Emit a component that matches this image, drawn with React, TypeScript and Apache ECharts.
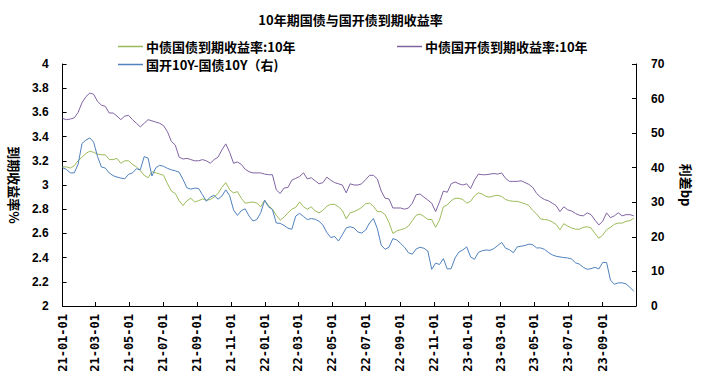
import React, { useEffect, useRef } from "react";
import * as echarts from "echarts";

// ---- Data (weekly readings, starting 2021-01-01, one value every 7 days) ----
const startDate = "2021-01-01";
const endDate = "2023-10-31";
const stepDays = 7;

const seriesNames = ["中债国债到期收益率:10年", "中债国开债到期收益率:10年", "国开10Y-国债10Y（右)"];

// 中债国债到期收益率:10年 (%)
const cgbYield = [
  3.15, 3.15, 3.14, 3.16, 3.2, 3.23, 3.26, 3.28, 3.27, 3.255,
  3.25, 3.25, 3.21, 3.21, 3.22, 3.18, 3.2, 3.2, 3.17, 3.15,
  3.12, 3.08, 3.06, 3.11, 3.1, 3.09, 3.08, 3.01, 2.95, 2.93,
  2.87, 2.83, 2.87, 2.89, 2.86, 2.87, 2.885, 2.875, 2.88, 2.9,
  2.93, 2.98, 3.02, 2.96, 2.935, 2.945, 2.89, 2.85, 2.855, 2.86,
  2.85, 2.82, 2.875, 2.83, 2.8, 2.75, 2.71, 2.735, 2.77, 2.8,
  2.815, 2.86, 2.82, 2.8, 2.82, 2.785, 2.77, 2.79, 2.825, 2.84,
  2.84, 2.82, 2.79, 2.72, 2.77, 2.78, 2.795, 2.815, 2.845, 2.85,
  2.825, 2.78, 2.78, 2.755, 2.69, 2.6, 2.62, 2.63, 2.64, 2.66,
  2.705, 2.75, 2.76, 2.74, 2.715, 2.715, 2.65, 2.71, 2.82, 2.835,
  2.87, 2.89, 2.89, 2.88, 2.85, 2.865, 2.91, 2.935, 2.925, 2.905,
  2.9, 2.91, 2.915, 2.905, 2.88, 2.87, 2.865, 2.865, 2.855, 2.845,
  2.83, 2.79, 2.76, 2.72, 2.715, 2.71, 2.695, 2.675, 2.63, 2.68,
  2.66, 2.645, 2.635, 2.635, 2.65, 2.655, 2.645, 2.6, 2.56, 2.585,
  2.63, 2.65, 2.675, 2.685, 2.685, 2.7, 2.705, 2.725,
];

// 中债国开债到期收益率:10年 (%)
const cdbYield = [
  3.55, 3.54, 3.545, 3.555, 3.6, 3.68, 3.73, 3.76, 3.75, 3.69,
  3.66, 3.65, 3.595, 3.595, 3.57, 3.54, 3.57, 3.575, 3.54, 3.51,
  3.48, 3.51, 3.54, 3.53, 3.52, 3.51, 3.49, 3.44, 3.36, 3.33,
  3.23, 3.215, 3.22, 3.21, 3.2, 3.2, 3.21, 3.2, 3.18, 3.21,
  3.23, 3.29, 3.34, 3.27, 3.18, 3.19, 3.17, 3.13, 3.11, 3.1,
  3.1, 3.1, 3.09, 3.085, 3.085, 2.96, 2.93, 2.975, 2.98, 3.04,
  3.055, 3.07, 3.1, 3.05, 3.06, 3.035, 3.01, 3.02, 3.065, 3.04,
  3.02, 3.01, 3.0, 2.935, 3.01, 3.0, 3.0, 3.01, 3.045, 3.08,
  3.08, 3.05, 2.95, 2.89, 2.885, 2.81, 2.81, 2.81, 2.8, 2.81,
  2.85, 2.92, 2.925, 2.9, 2.875, 2.85, 2.78, 2.86, 2.95, 2.94,
  3.01, 3.025, 3.01, 3.0, 3.01, 2.97, 3.04, 3.09, 3.085, 3.085,
  3.09, 3.095, 3.09, 3.1, 3.055, 3.03, 3.03, 3.03, 3.035, 3.02,
  3.005, 2.98, 2.93, 2.9, 2.88, 2.87, 2.85, 2.83, 2.78, 2.82,
  2.795, 2.785, 2.765, 2.75, 2.745, 2.77, 2.755, 2.71, 2.67, 2.7,
  2.77, 2.73, 2.745, 2.77, 2.745, 2.755, 2.755, 2.745,
];

// 国开10Y-国债10Y (bp, right axis)
const spreadBp = [
  40.0, 39.5, 38.5, 38.5, 41.0, 47.0, 48.0, 48.6, 47.4, 43.2,
  40.2, 39.9, 38.5, 37.7, 37.3, 37.0, 36.8, 38.1, 38.5, 39.7,
  39.4, 43.2, 42.8, 37.6, 40.0, 40.7, 40.4, 39.8, 39.4, 39.1,
  38.7, 36.6, 34.2, 33.8, 34.1, 34.0, 32.2, 30.3, 31.5, 32.0,
  30.9, 31.8, 33.6, 31.9, 27.8, 26.2, 27.6, 28.1, 26.0, 24.6,
  25.0, 27.0, 30.6, 28.7, 27.9, 24.0, 23.9, 23.3, 22.5, 22.2,
  26.0, 26.8, 25.9, 25.0, 25.3, 25.1, 24.5, 23.4, 21.3, 19.8,
  20.1, 18.8, 20.6, 22.6, 22.9, 22.6, 21.4, 21.1, 22.0, 24.0,
  25.3, 22.4, 17.6, 16.4, 17.0, 19.5, 19.1, 18.1, 17.0, 15.4,
  15.0, 16.5, 17.0, 16.7, 15.9, 10.6, 12.4, 12.0, 13.7, 10.7,
  10.8, 13.9, 15.6, 16.2, 17.1, 14.2, 13.5, 15.5, 16.0, 16.2,
  16.1, 16.6, 17.5, 18.4, 16.7, 16.3, 15.4, 17.1, 17.3, 17.5,
  17.9, 17.7, 16.8, 16.8, 16.4, 15.5, 14.8, 14.4, 14.2, 14.0,
  13.9, 13.6, 12.5, 12.1, 11.2, 10.6, 10.8, 11.2, 10.7, 12.6,
  12.6, 7.5, 6.3, 6.7, 6.7, 6.4, 5.4, 4.3,
];

const leftTicks = { min: 2, max: 4, interval: 0.2 };
const rightTicks = { min: 0, max: 70, interval: 10 };

const colors = ["#9BBB59", "#8064A2", "#4F81BD"];

function fmt(t: number) {
  const d = new Date(t);
  const y = d.getUTCFullYear();
  const m = String(d.getUTCMonth() + 1).padStart(2, "0");
  const dd = String(d.getUTCDate()).padStart(2, "0");
  return `${y}-${m}-${dd}`;
}

function buildCategories() {
  const out: string[] = [];
  const s = Date.parse(startDate + "T00:00:00Z");
  const e = Date.parse(endDate + "T00:00:00Z");
  for (let t = s; t <= e; t += 86400000) out.push(fmt(t));
  return out;
}

function placeWeekly(values: number[], n: number) {
  const arr: (number | null)[] = new Array(n).fill(null);
  values.forEach((v, i) => {
    const idx = i * stepDays;
    if (idx < n) arr[idx] = v;
  });
  return arr;
}

const CJK = '"Noto Sans CJK SC", "Liberation Sans", sans-serif';
const NUM = '"Liberation Sans", Arial, sans-serif';

export default function App() {
  const ref = useRef<HTMLDivElement>(null);
  useEffect(() => {
    if (!ref.current) return;
    const chart = echarts.init(ref.current, undefined, { renderer: "svg" });
    const cats = buildCategories();
    const isTick = (_i: number, v: string) => {
      const m = Number(v.slice(5, 7));
      return v.slice(8) === "01" && m % 2 === 1;
    };
    const lineSeries = (name: string, data: number[], color: string, yAxisIndex: number) => ({
      name,
      type: "line",
      yAxisIndex,
      data: placeWeekly(data, cats.length),
      connectNulls: true,
      symbol: "none",
      showSymbol: false,
      lineStyle: { color, width: 1 },
      itemStyle: { color },
    });
    const legendText = { fontFamily: CJK, fontWeight: "bold", fontSize: 13, color: "#000", padding: [0, 0, 0, -2] };
    const legendBase = {
      icon: "rect",
      itemWidth: 25,
      itemHeight: 1.5,
      itemGap: 0,
      padding: 0,
      textStyle: legendText,
    };
    chart.setOption({
      animation: false,
      backgroundColor: "#fff",
      title: {
        text: "10年期国债与国开债到期收益率",
        left: "center",
        top: 13,
        padding: 0,
        textStyle: { fontFamily: CJK, fontWeight: "bold", fontSize: 13, color: "#000" },
      },
      legend: [
        { ...legendBase, data: [seriesNames[0]], left: 118, top: 40 },
        { ...legendBase, data: [seriesNames[1]], left: 397, top: 40 },
        { ...legendBase, data: [seriesNames[2]], left: 118, top: 58 },
      ],
      grid: { left: 60, right: 63, top: 64, bottom: 72, containLabel: false },
      xAxis: {
        type: "category",
        data: cats,
        boundaryGap: false,
        axisLine: { lineStyle: { color: "#000", width: 1 } },
        axisTick: { show: true, inside: true, length: 4, interval: isTick, lineStyle: { color: "#000" } },
        axisLabel: {
          interval: isTick,
          rotate: 90,
          margin: 8,
          formatter: (v: string) => v.slice(2),
          fontFamily: '"DejaVu Sans Mono", monospace',
          fontWeight: "bold",
          fontSize: 12,
          color: "#000",
        },
        splitLine: { show: false },
      },
      yAxis: [
        {
          type: "value",
          ...leftTicks,
          position: "left",
          name: "到期收益率%",
          nameLocation: "middle",
          nameRotate: -90,
          nameGap: 40,
          nameTextStyle: { fontFamily: CJK, fontWeight: "bold", fontSize: 13, color: "#000" },
          axisLine: { show: true, lineStyle: { color: "#000", width: 1 } },
          axisTick: { show: true, inside: true, length: 4, lineStyle: { color: "#000" } },
          axisLabel: { margin: 14, fontFamily: NUM, fontWeight: "bold", fontSize: 12, color: "#000" },
          splitLine: { show: false },
        },
        {
          type: "value",
          ...rightTicks,
          position: "right",
          name: "利差bp",
          nameLocation: "middle",
          nameRotate: -90,
          nameGap: 44,
          nameTextStyle: { fontFamily: CJK, fontWeight: "bold", fontSize: 13, color: "#000" },
          axisLine: { show: true, lineStyle: { color: "#000", width: 1 } },
          axisTick: { show: true, inside: true, length: 4, lineStyle: { color: "#000" } },
          axisLabel: { margin: 15, fontFamily: NUM, fontWeight: "bold", fontSize: 12, color: "#000" },
          splitLine: { show: false },
        },
      ],
      series: [
        lineSeries(seriesNames[0], cgbYield, colors[0], 0),
        lineSeries(seriesNames[1], cdbYield, colors[1], 0),
        lineSeries(seriesNames[2], spreadBp, colors[2], 1),
      ],
    });
    return () => chart.dispose();
  }, []);
  return (
    <div
      ref={ref}
      style={{ position: "fixed", left: 0, top: 0, width: 701, height: 378, background: "#fff" }}
    />
  );
}
